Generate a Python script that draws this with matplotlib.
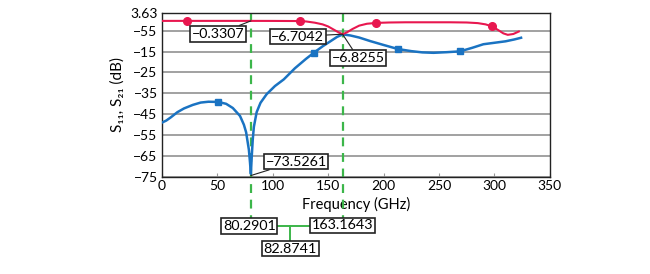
import matplotlib
matplotlib.use("Agg")
import matplotlib.pyplot as plt
import numpy as np

plt.rcParams['font.family'] = ['Lato', 'DejaVu Sans']

# S21 (blue)
s21_f = [0, 4, 8, 14, 20, 28, 35, 42, 51, 58, 64, 70.5, 74, 76, 78.5, 79.5, 80.3,
         81, 82, 83, 85.5, 89, 94.5, 102, 110, 120, 130, 137, 145, 152, 158, 163.2,
         170, 178, 188, 199, 213, 225, 235, 245, 257, 269, 280, 290, 300, 310, 318, 324]
s21_db = [-49, -48, -46.5, -44, -42.2, -40.5, -39.4, -39.0, -39.1, -40, -42, -45.8, -50,
          -53.6, -62, -68, -73.5, -66, -57, -51, -44, -39.5, -35.4, -31.5, -28.3, -23,
          -18.5, -15.6, -12.5, -10.1, -8, -6.8, -7.3, -8.3, -10, -11.7, -13.8, -14.8,
          -15.4, -15.6, -15.3, -14.9, -13.2, -11.5, -10.8, -10.1, -9.2, -8.4]
s21_mark_f = [51, 137, 213, 269]
s21_mark_db = [-39.1, -15.6, -13.8, -14.9]

# S11 (red)
s11_f = [0, 20, 40, 60, 80, 100, 120, 130, 138, 145, 150, 155, 160, 163.2, 167, 172,
         178, 185, 193.5, 205, 220, 240, 260, 275, 285, 292, 298, 303, 308, 312, 317, 322]
s11_db = [-0.33, -0.33, -0.33, -0.33, -0.33, -0.35, -0.4, -0.6, -1.2, -2.0, -3.0, -4.5,
          -6.0, -6.7, -5.8, -4.2, -2.6, -1.7, -1.3, -1.1, -1.0, -1.0, -1.0, -1.1, -1.4,
          -2.0, -3.0, -4.6, -6.3, -7.0, -6.6, -5.4]
s11_mark_f = [22.5, 124.5, 193.5, 298]
s11_mark_db = [-0.33, -0.4, -1.3, -3.0]

# y ticks as printed on the chart
y_ticks = [3.63, -5, -15, -25, -35, -45, -55, -65, -75]
y_labels = ['3.63', '−55', '−15', '−25', '−35', '−45', '−55', '−65', '−75']
x_ticks = [0, 50, 100, 150, 200, 250, 300, 350]

# marker readouts
cursor_f = [80.2901, 163.1643]
delta_f = '82.8741'
red = '#e8174f'
blue = '#1a73c2'
green = '#3cb64a'

fig = plt.figure(figsize=(6.5, 2.74), dpi=100)
ax = fig.add_axes([0.249, 0.354, 0.597, 0.600])

ax.set_xlim(0, 350)
ax.set_ylim(-75, 3.63)
ax.set_yticks(y_ticks)
ax.set_yticklabels(y_labels)
ax.set_xticks(x_ticks)
ax.set_xticklabels([str(t) for t in x_ticks])
ax.tick_params(axis='y', length=0, labelsize=10, pad=3)
ax.tick_params(axis='x', direction='in', length=3, color='#999999', labelsize=10, pad=2)
ax.yaxis.grid(True, color='#9a9a9a', linewidth=1.3)
ax.set_axisbelow(True)
for sp in ax.spines.values():
    sp.set_linewidth(1.0)
    sp.set_color('#222222')

ax.plot(s21_f, s21_db, color=blue, linewidth=1.8, zorder=3)
ax.plot(s21_mark_f, s21_mark_db, 's', color=blue, markersize=5, zorder=4)
ax.plot(s11_f, s11_db, color=red, linewidth=1.5, zorder=3)
ax.plot(s11_mark_f, s11_mark_db, 'o', color=red, markersize=5.5, zorder=4)

ax.set_xlabel('Frequency (GHz)', fontsize=10.5, labelpad=4)
ax.set_ylabel('S₁₁, S₂₁ (dB)', fontsize=11, labelpad=4)

# dashed cursor lines running down to the readout boxes
for f in cursor_f:
    ax.plot([f, f], [3.63, -97], color=green, linewidth=1.6, dashes=(4, 3),
            clip_on=False, zorder=2)

box = dict(boxstyle='square,pad=0.12', fc='white', ec='#222222', lw=1.2)
arr = dict(arrowstyle='-', color='#222222', lw=0.8, shrinkA=0, shrinkB=0)
fs = 10.3

ax.annotate('−0.3307', xy=(80.29, -0.3307), xytext=(51, -6.5), ha='center', va='center',
            fontsize=fs, bbox=box, arrowprops=arr, zorder=6)
ax.annotate('−6.7042', xy=(163.16, -6.7042), xytext=(122.5, -7.8), ha='center', va='center',
            fontsize=fs, bbox=box, arrowprops=arr, zorder=6)
ax.annotate('−6.8255', xy=(163.16, -6.8255), xytext=(177, -18.0), ha='center', va='center',
            fontsize=fs, bbox=box, arrowprops=arr, zorder=6)
ax.annotate('−73.5261', xy=(80.29, -74.3), xytext=(121, -67.6), ha='center', va='center',
            fontsize=fs, bbox=box, arrowprops=arr, zorder=6)

# readout boxes below the axes
ax.plot([cursor_f[0], cursor_f[1]], [-98.5, -98.5], color=green, linewidth=1.4, clip_on=False)
ax.plot([115.5, 115.5], [-98.5, -109], color=green, linewidth=1.4, clip_on=False)
ax.text(78.8, -98.5, '80.2901', ha='center', va='center', fontsize=fs, bbox=box,
        clip_on=False, zorder=6)
ax.text(162.7, -98.1, '163.1643', ha='center', va='center', fontsize=fs, bbox=box,
        clip_on=False, zorder=6)
ax.text(115.7, -109.2, delta_f, ha='center', va='center', fontsize=fs, bbox=box,
        clip_on=False, zorder=6)

fig.savefig('out.png', dpi=100)
